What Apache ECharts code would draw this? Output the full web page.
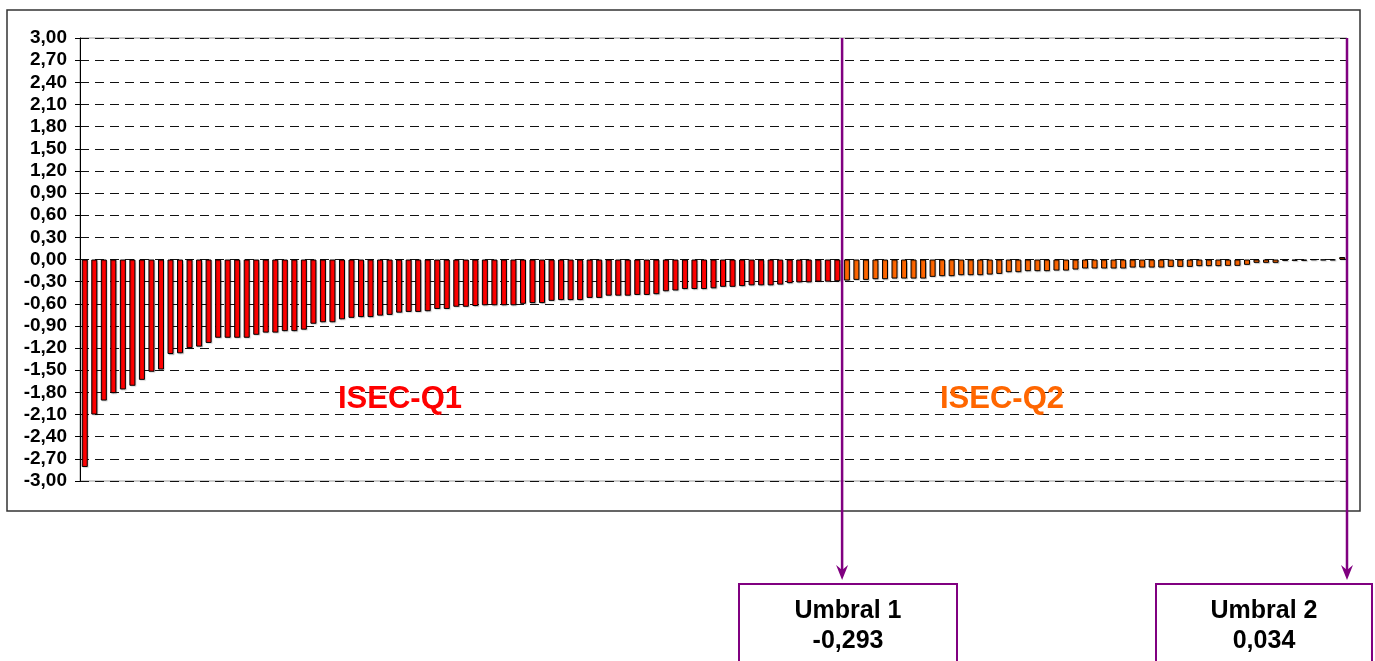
<!DOCTYPE html>
<html>
<head>
<meta charset="utf-8">
<script src="https://cdn.jsdelivr.net/npm/echarts@6/dist/echarts.min.js"></script>
<style>
  html, body { margin: 0; padding: 0; background: #fff; }
  #chart { width: 1375px; height: 661px; }
</style>
</head>
<body>
<div id="chart"></div>
<script>
// ISEC-Q1 bars (values up to Umbral 1)
const q1Values = [
  -2.81, -2.10, -1.91, -1.81, -1.76, -1.71, -1.63, -1.52, -1.49, -1.28,
  -1.27, -1.20, -1.18, -1.13, -1.06, -1.06, -1.06, -1.06, -1.02, -0.99,
  -0.99, -0.97, -0.97, -0.95, -0.87, -0.85, -0.85, -0.81, -0.79, -0.78,
  -0.78, -0.76, -0.75, -0.72, -0.71, -0.71, -0.70, -0.67, -0.67, -0.64,
  -0.64, -0.63, -0.62, -0.62, -0.62, -0.62, -0.60, -0.59, -0.59, -0.56,
  -0.55, -0.55, -0.55, -0.52, -0.52, -0.49, -0.49, -0.49, -0.48, -0.48,
  -0.47, -0.43, -0.42, -0.40, -0.40, -0.40, -0.39, -0.37, -0.37, -0.36,
  -0.35, -0.35, -0.35, -0.34, -0.32, -0.31, -0.31, -0.30, -0.30, -0.295
];
// ISEC-Q2 bars (values between Umbral 1 and Umbral 2)
const q2Values = [
  -0.285, -0.276, -0.276, -0.267, -0.267, -0.258, -0.258, -0.258, -0.258, -0.235,
  -0.226, -0.226, -0.213, -0.213, -0.213, -0.204, -0.195, -0.172, -0.172, -0.158,
  -0.158, -0.158, -0.150, -0.150, -0.136, -0.122, -0.122, -0.122, -0.122, -0.122,
  -0.109, -0.109, -0.109, -0.109, -0.100, -0.100, -0.100, -0.090, -0.090, -0.090,
  -0.086, -0.086, -0.072, -0.045, -0.045, -0.045, -0.018, -0.018, -0.018, -0.005,
  -0.010, -0.010, 0.034
];
const groupLabels = ['ISEC-Q1', 'ISEC-Q2'];
const thresholdNames = ['Umbral 1', 'Umbral 2'];
const thresholdTexts = ['-0,293', '0,034'];
const yMin = -3, yMax = 3, yStep = 0.3;

const categories = q1Values.concat(q2Values).map((_, i) => String(i + 1));
const s1 = q1Values.concat(q2Values.map(() => '-'));
const s2 = q1Values.map(() => '-').concat(q2Values);

const RED = '#FF0000', ORANGE = '#FF6600', PURPLE = '#800080';
const FONT = "'Liberation Sans', Arial, sans-serif";

const chart = echarts.init(document.getElementById('chart'), null, { renderer: 'canvas' });

const option = {
  animation: false,
  backgroundColor: '#fff',
  grid: { left: 80, right: 28, top: 38, bottom: 180, show: true, borderColor: '#9a9a9a', borderWidth: 1, backgroundColor: 'transparent' },
  xAxis: {
    type: 'category',
    data: categories,
    axisLine: { show: false },
    axisTick: { show: false },
    axisLabel: { show: false },
    splitLine: { show: false }
  },
  yAxis: {
    type: 'value',
    min: yMin, max: yMax, interval: yStep,
    axisLine: { show: true, lineStyle: { color: '#000', width: 1 } },
    axisTick: { show: true, length: 5, lineStyle: { color: '#000' } },
    axisLabel: {
      margin: 13,
      color: '#000',
      fontFamily: FONT,
      fontWeight: 'bold',
      fontSize: 19,
      formatter: function (v) {
        if (Math.abs(v) < 1e-9) v = 0;
        return v.toFixed(2).replace('.', ',');
      }
    },
    splitLine: { show: true, lineStyle: { color: '#111', type: [9, 6], width: 1 } }
  },
  series: [
    {
      name: groupLabels[0], type: 'bar', data: s1, barWidth: 6, barGap: '-100%',
      itemStyle: { color: RED, borderColor: '#000', borderWidth: 1,
        shadowColor: 'rgba(0,0,0,0.18)', shadowOffsetX: 1, shadowOffsetY: 1, shadowBlur: 1 }
    },
    {
      name: groupLabels[1], type: 'bar', data: s2, barWidth: 6, barGap: '-100%',
      itemStyle: { color: ORANGE, borderColor: '#000', borderWidth: 1,
        shadowColor: 'rgba(0,0,0,0.18)', shadowOffsetX: 1, shadowOffsetY: 1, shadowBlur: 1 }
    }
  ]
};
chart.setOption(option);

// Positions derived from the axis
const x0 = chart.convertToPixel({ xAxisIndex: 0 }, 0);
const x1 = chart.convertToPixel({ xAxisIndex: 0 }, 1);
const band = x1 - x0;
const lineX1 = chart.convertToPixel({ xAxisIndex: 0 }, q1Values.length - 1) + band / 2;
const lineX2 = chart.convertToPixel({ xAxisIndex: 0 }, q1Values.length + q2Values.length - 1) + band / 2;
const yTop = chart.convertToPixel({ yAxisIndex: 0 }, yMax);
const yLab = chart.convertToPixel({ yAxisIndex: 0 }, -1.9);

function arrow(x) {
  return [
    { type: 'line', shape: { x1: x, y1: yTop, x2: x, y2: 570 }, style: { stroke: PURPLE, lineWidth: 2.5 }, z: 100 },
    { type: 'polygon', shape: { points: [[x - 6, 565], [x, 570], [x + 6, 565], [x, 580]] }, style: { fill: PURPLE }, z: 100 }
  ];
}

function box(left, width, idx) {
  const cx = left + width / 2;
  return [
    { type: 'rect', shape: { x: left, y: 584, width: width, height: 100 }, style: { fill: '#fff', stroke: PURPLE, lineWidth: 2 }, z: 90 },
    { type: 'text', x: cx, y: 611, style: { text: thresholdNames[idx], fill: '#000', font: 'bold 25px ' + FONT, textAlign: 'center', textVerticalAlign: 'middle' }, z: 95 },
    { type: 'text', x: cx, y: 641, style: { text: thresholdTexts[idx], fill: '#000', font: 'bold 25px ' + FONT, textAlign: 'center', textVerticalAlign: 'middle' }, z: 95 }
  ];
}

chart.setOption({
  graphic: [
    { type: 'rect', shape: { x: 7, y: 10, width: 1353, height: 501 }, style: { fill: 'none', stroke: '#333', lineWidth: 1.5 }, z: -10, silent: true },
    { type: 'text', x: 400, y: yLab, style: { text: groupLabels[0], fill: RED, font: 'bold 31px ' + FONT, textAlign: 'center', textVerticalAlign: 'middle' }, z: 80 },
    { type: 'text', x: 1002, y: yLab, style: { text: groupLabels[1], fill: ORANGE, font: 'bold 31px ' + FONT, textAlign: 'center', textVerticalAlign: 'middle' }, z: 80 }
  ].concat(arrow(lineX1), arrow(lineX2), box(739, 218, 0), box(1156, 216, 1))
});
</script>
</body>
</html>
